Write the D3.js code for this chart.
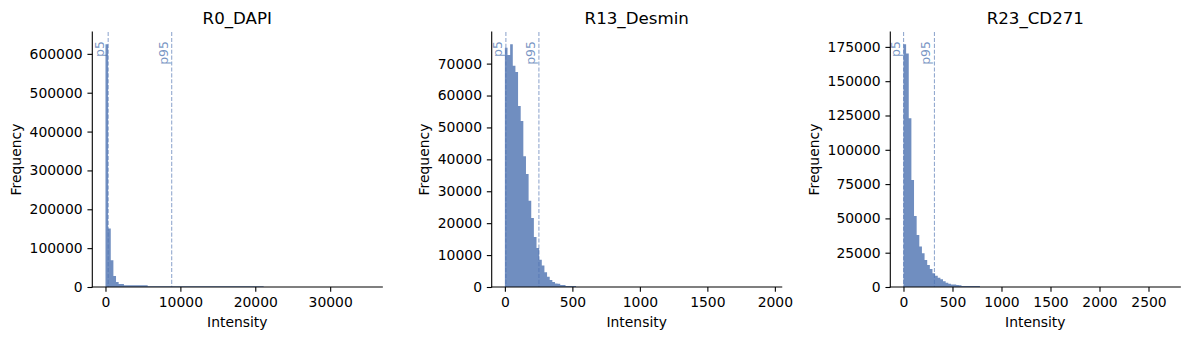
<!DOCTYPE html>
<html>
<head>
<meta charset="utf-8">
<script src="https://cdn.jsdelivr.net/npm/d3@7"></script>
<style>
  html, body { margin: 0; padding: 0; background: #fff; }
  svg { display: block; font-family: "DejaVu Sans", sans-serif; }
</style>
</head>
<body>
<svg id="chart" width="1190" height="340"></svg>
<script>
// ---------------- DATA ----------------
const titles = ["R0_DAPI", "R13_Desmin", "R23_CD271"];
const binCount = 100;

// data extent (min, max) of each channel
const dapiRange = [0, 35200];
const desminRange = [0, 1953];
const cd271Range = [0, 2690];

// histogram counts for the first bins (remaining bins are ~0, last bin holds the max)
const dapiCounts = [625000, 150500, 68800, 28000, 13000, 7700, 7700,
  4400, 4400, 4400, 4400, 4400, 4400, 4400, 4400, 4400,
  1800, 1800, 1800, 1800, 1800, 1800, 1800, 1800, 1800, 1800, 1800,
  1800, 1800, 1800, 1800, 1800, 1800, 1800, 1800, 1800, 1800, 1800,
  1800, 1800, 1800, 1800, 1800, 1800, 1800, 1800, 1800, 1800, 1800,
  1800, 1800, 1800, 1800, 1800, 1800, 1800, 1800, 1800, 1800, 1800];
const desminCounts = [75000, 72700, 76100, 69300, 67400, 56700, 52000, 41000, 35400,
  27000, 21600, 15700, 12200, 8500, 6700, 4600, 3200, 2200, 1600, 1100, 1000,
  650, 600, 300, 300, 300, 300];
const cd271Counts = [177000, 170200, 123000, 78000, 51700, 37900, 29500, 24600, 19700,
  16000, 13100, 10000, 8200, 6800, 5600, 4100, 3100, 2400, 1900, 1900, 1400, 1300,
  700, 700, 700, 700, 700, 700, 700];
const lastBinCount = [1, 1, 1];

// percentiles [p5, p95]
const dapiPct = [360, 8840];
const desminPct = [7.4, 252];
const cd271Pct = [1, 316];

// tick labels
const dapiXTicks = [0, 10000, 20000, 30000];
const dapiYTicks = [0, 100000, 200000, 300000, 400000, 500000, 600000];
const desminXTicks = [0, 500, 1000, 1500, 2000];
const desminYTicks = [0, 10000, 20000, 30000, 40000, 50000, 60000, 70000];
const cd271XTicks = [0, 500, 1000, 1500, 2000, 2500];
const cd271YTicks = [0, 25000, 50000, 75000, 100000, 125000, 150000, 175000];

const pctLabels = ["p5", "p95"];
const xLabel = "Intensity";
const yLabel = "Frequency";

// ---------------- BUILD ----------------
function fullBins(counts, last) {
  const arr = new Array(binCount).fill(0);
  counts.forEach((c, i) => arr[i] = c);
  arr[binCount - 1] = last;
  return arr;
}
const panels = [
  { title: titles[0], range: dapiRange, counts: fullBins(dapiCounts, lastBinCount[0]), pct: dapiPct, xt: dapiXTicks, yt: dapiYTicks },
  { title: titles[1], range: desminRange, counts: fullBins(desminCounts, lastBinCount[1]), pct: desminPct, xt: desminXTicks, yt: desminYTicks },
  { title: titles[2], range: cd271Range, counts: fullBins(cd271Counts, lastBinCount[2]), pct: cd271Pct, xt: cd271XTicks, yt: cd271YTicks }
];

const svg = d3.select("#chart");
const axLefts = [92.3, 491.7, 890.3];
const axW = 290, axTop = 32, axBottom = 287;
const baseColor = "#4c72b0";
const barFill = "#708ec0"; // #4c72b0 at 0.8 alpha over white
const tickFont = 13.9, titleFont = 16.67, pctFont = 12.5;
const tickLen = 4.86, tickPad = 4.86;

panels.forEach((p, i) => {
  const left = axLefts[i];
  const [mn, mx] = p.range;
  const span = mx - mn;
  const x = d3.scaleLinear().domain([mn - 0.05 * span, mx + 0.05 * span]).range([left, left + axW]);
  const yMax = d3.max(p.counts) * 1.05;
  const y = d3.scaleLinear().domain([0, yMax]).range([axBottom, axTop]);
  const bw = span / binCount;
  const bins = p.counts.map((c, k) => ({ x0: mn + k * bw, x1: mn + (k + 1) * bw, c }));

  const g = svg.append("g");

  // bars: one step outline so adjacent bins do not show seams
  const path = d3.path();
  path.moveTo(x(bins[0].x0), y(0));
  bins.forEach(b => {
    path.lineTo(x(b.x0), y(b.c));
    path.lineTo(x(b.x1), y(b.c));
  });
  path.lineTo(x(bins[bins.length - 1].x1), y(0));
  path.closePath();
  g.append("path").attr("d", path.toString()).attr("fill", barFill);

  // percentile lines
  p.pct.forEach((v, j) => {
    const px = x(v);
    g.append("line")
      .attr("x1", px).attr("x2", px)
      .attr("y1", axTop).attr("y2", axBottom)
      .attr("stroke", baseColor).attr("stroke-opacity", 0.6)
      .attr("stroke-width", 1.1)
      .attr("stroke-dasharray", "4.1,1.8");
    g.append("text")
      .attr("transform", `translate(${px},41) rotate(-90)`)
      .attr("y", -4)
      .attr("text-anchor", "end")
      .attr("font-size", pctFont)
      .attr("fill", baseColor)
      .attr("fill-opacity", 0.75)
      .text(pctLabels[j]);
  });

  // axes
  const xAxis = d3.axisBottom(x).tickValues(p.xt).tickFormat(d3.format("d"))
    .tickSizeInner(tickLen).tickSizeOuter(0).tickPadding(tickPad);
  const yAxis = d3.axisLeft(y).tickValues(p.yt).tickFormat(d3.format("d"))
    .tickSizeInner(tickLen).tickSizeOuter(0).tickPadding(tickPad);

  const gx = g.append("g").attr("transform", `translate(0,${axBottom})`).call(xAxis);
  const gy = g.append("g").attr("transform", `translate(${left},0)`).call(yAxis);
  [gx, gy].forEach(a => {
    a.selectAll("text").attr("font-size", tickFont).attr("font-family", "DejaVu Sans").attr("fill", "#000");
    a.selectAll("line").attr("stroke", "#000").attr("stroke-width", 1.1);
    a.select(".domain").remove();
  });
  // spines
  g.append("line").attr("x1", left).attr("x2", left).attr("y1", axTop).attr("y2", axBottom)
    .attr("stroke", "#000").attr("stroke-width", 1.1).attr("stroke-linecap", "square");
  g.append("line").attr("x1", left).attr("x2", left + axW).attr("y1", axBottom).attr("y2", axBottom)
    .attr("stroke", "#000").attr("stroke-width", 1.1).attr("stroke-linecap", "square");

  // measure widest y tick label
  let maxW = 0;
  gy.selectAll("text").each(function () { maxW = Math.max(maxW, this.getComputedTextLength()); });

  // title
  g.append("text").attr("x", left + axW / 2).attr("y", 24)
    .attr("text-anchor", "middle").attr("font-size", titleFont).attr("fill", "#000")
    .text(p.title);
  // x label
  g.append("text").attr("x", left + axW / 2).attr("y", 327)
    .attr("text-anchor", "middle").attr("font-size", tickFont).attr("fill", "#000")
    .text(xLabel);
  // y label
  const ylx = left - tickLen - tickPad - maxW - 5.6 - 3.3;
  g.append("text")
    .attr("transform", `translate(${ylx},${(axTop + axBottom) / 2}) rotate(-90)`)
    .attr("text-anchor", "middle").attr("font-size", tickFont).attr("fill", "#000")
    .text(yLabel);
});
</script>
</body>
</html>
